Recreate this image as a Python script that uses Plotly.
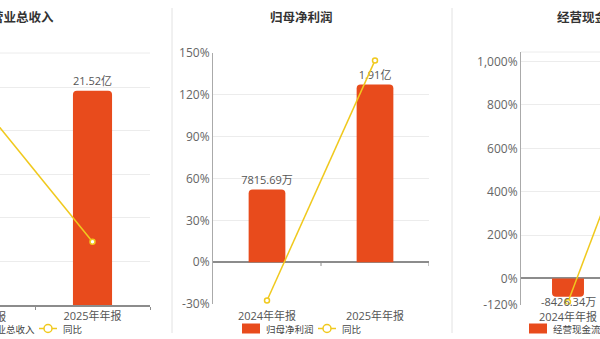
import plotly.graph_objects as go

# ---------------- data ----------------
categories = ["2024年年报", "2025年年报"]
panel_titles = ["营业总收入", "归母净利润", "经营现金流"]
revenue_wan = [188000, 215200]        # 2024 value off-screen (estimated)
revenue_yoy = [47.0, 14.5]
profit_wan = [7815.69, 19100]
profit_yoy = [-27.5, 144.7]
cash_wan = [-8426.34, 79200]          # 2025 value off-screen (estimated)
cash_yoy = [-108.0, 1040.0]
yoy_name = "同比"
profit_pct_ticks = [-30, 0, 30, 60, 90, 120, 150]
cash_pct_ticks = [-120, 0, 200, 400, 600, 800, 1000]
rev_pct_ticks = [0, 10, 20, 30, 40, 50]

W, H = 600, 339
BAR = "#E84B1C"
LINE = "#F0C91E"
GRID = "#ececec"
AX = "#8c8c8c"
FONT = "Open Sans, Noto Sans CJK SC, sans-serif"


def P(py):
    return 1 - py / H


def X(px):
    return px / W


def fmt(v):
    if abs(v) >= 10000:
        return f"{v / 10000:.2f}亿"
    return f"{v:.2f}万"


fig = go.Figure()

panels = [
    dict(bars=revenue_wan, yoy=revenue_yoy, xa="x", yb="y", yp="y2"),
    dict(bars=profit_wan, yoy=profit_yoy, xa="x2", yb="y3", yp="y4"),
    dict(bars=cash_wan, yoy=cash_yoy, xa="x3", yb="y5", yp="y6"),
]

annotations = []
for p in panels:
    fig.add_trace(go.Bar(
        x=categories, y=p["bars"], xaxis=p["xa"], yaxis=p["yb"],
        width=0.34, marker=dict(color=BAR, cornerradius=4, line=dict(width=0)),
        text=[fmt(v) if v >= 0 else "" for v in p["bars"]], textposition="outside",
        textfont=dict(size=11, color="#555"), constraintext="none",
        cliponaxis=False, showlegend=False, hoverinfo="skip"))
    # labels of negative bars sit just under the bar end
    for c, v in zip(categories, p["bars"]):
        if v < 0:
            annotations.append(dict(text=fmt(v), xref=p["xa"], yref=p["yb"], x=c, y=v,
                                    xanchor="center", yanchor="middle", yshift=-5,
                                    showarrow=False, font=dict(size=11, color="#555")))
    fig.add_trace(go.Scatter(
        x=categories, y=p["yoy"], xaxis=p["xa"], yaxis=p["yp"],
        mode="lines+markers", line=dict(color=LINE, width=1.5),
        marker=dict(symbol="circle", size=5, color="white",
                    line=dict(color=LINE, width=1.5)),
        name=yoy_name, showlegend=False, hoverinfo="skip"))

common_x = dict(type="category", showgrid=False, zeroline=False, automargin=False,
                tickfont=dict(size=11, color="#555"), fixedrange=True)
hidden_y = dict(visible=False, showgrid=False, zeroline=False, automargin=False)
pct_y = dict(showgrid=True, gridcolor=GRID, gridwidth=1, automargin=False,
             tickfont=dict(size=12, color="#666"), ticks="", showline=True,
             linecolor="#aaaaaa", linewidth=1)

fig.update_layout(
    template="none",
    width=W, height=H,
    margin=dict(l=0, r=0, t=0, b=0, autoexpand=False),
    paper_bgcolor="white", plot_bgcolor="rgba(0,0,0,0)",
    font=dict(family=FONT, size=12, color="#666"),
    showlegend=False,
    # left panel (revenue)
    xaxis=dict(common_x, domain=[0, X(150)], range=[0.5 - 35 / 115, 1.5], anchor="y",
               showline=True, linecolor=AX, linewidth=1.5, ticks="outside",
               tickson="boundaries", ticklen=3, tickcolor=AX),
    yaxis=dict(hidden_y, domain=[P(305), P(53)], range=[0, 253000], anchor="x"),
    yaxis2=dict(pct_y, overlaying="y", anchor="x", range=[0, 57.8], tickvals=rev_pct_ticks,
                ticktext=[f"{v:,}%" for v in rev_pct_ticks], zeroline=False, showline=False,
                showticklabels=False),
    # middle panel (profit)
    xaxis2=dict(common_x, domain=[X(213), X(429)], range=[-0.5, 1.5], anchor="y3",
                showline=False, ticks="outside", ticklen=2, tickcolor="rgba(0,0,0,0)"),
    yaxis3=dict(hidden_y, domain=[P(304), P(53)], range=[-4500, 22500], anchor="x2"),
    yaxis4=dict(pct_y, overlaying="y3", anchor="x2", range=[-30, 150], tickvals=profit_pct_ticks,
                ticktext=[f"{v:,}%" for v in profit_pct_ticks], zeroline=True,
                zerolinecolor=AX, zerolinewidth=1.5),
    # right panel (cash flow)
    xaxis3=dict(common_x, domain=[X(521), 1], range=[-0.5, -0.5 + 79 / 94], anchor="y5",
                showline=False, ticks="outside", ticklen=2, tickcolor="rgba(0,0,0,0)"),
    yaxis5=dict(hidden_y, domain=[P(304.5), P(52)], range=[-12000, 104400], anchor="x3"),
    yaxis6=dict(pct_y, overlaying="y5", anchor="x3", range=[-120, 1044], tickvals=cash_pct_ticks,
                ticktext=[f"{v:,}%" for v in cash_pct_ticks], zeroline=True,
                zerolinecolor=AX, zerolinewidth=1.5),
)

shapes = []
# panel separators
for sx in (172, 452):
    shapes.append(dict(type="line", xref="paper", yref="paper", x0=X(sx), x1=X(sx),
                       y0=P(8), y1=P(333), line=dict(color="#e2e2e2", width=1)))
# top borders of left and right plot areas
for xr, yr in (("x", "y"), ("x3", "y5")):
    shapes.append(dict(type="line", xref=f"{xr} domain", yref=f"{yr} domain",
                       x0=0, x1=1, y0=1, y1=1, line=dict(color=GRID, width=1)))
# small ticks on middle zero line
for bx in (0.5, 1.5):
    shapes.append(dict(type="line", xref="x2", yref="paper", x0=bx, x1=bx,
                       y0=P(262), y1=P(266), line=dict(color=AX, width=1)))

title_centers = [22, 301, 588]
legend_offsets = [-279, 0, 287]
for t, cx, off in zip(panel_titles, title_centers, legend_offsets):
    annotations.append(dict(text=f"<b>{t}</b>", xref="paper", yref="paper", x=X(cx), y=P(18),
                            xanchor="center", yanchor="middle", showarrow=False,
                            font=dict(size=12.5, color="#333")))
    # legend: bar swatch
    shapes.append(dict(type="rect", xref="paper", yref="paper", x0=X(242 + off), x1=X(260 + off),
                       y0=P(333.5), y1=P(323.5), fillcolor=BAR, line=dict(width=0)))
    annotations.append(dict(text=t, xref="paper", yref="paper", x=X(264 + off), y=P(329),
                            xanchor="left", yanchor="middle", showarrow=False,
                            font=dict(size=9.5, color="#444")))
    # legend: line swatch
    shapes.append(dict(type="line", xref="paper", yref="paper", x0=X(318 + off), x1=X(336 + off),
                       y0=P(328.5), y1=P(328.5), line=dict(color=LINE, width=1.5)))
    shapes.append(dict(type="circle", xref="paper", yref="paper", x0=X(323 + off), x1=X(331 + off),
                       y0=P(332.5), y1=P(324.5), fillcolor="white", line=dict(color=LINE, width=1.5)))
    annotations.append(dict(text=yoy_name, xref="paper", yref="paper", x=X(340 + off), y=P(329),
                            xanchor="left", yanchor="middle", showarrow=False,
                            font=dict(size=9.5, color="#444")))

# left panel: partially visible first category label
annotations.append(dict(text=categories[0], xref="paper", yref="paper", x=X(-23), y=P(316),
                        xanchor="center", yanchor="middle", showarrow=False,
                        font=dict(size=11, color="#555")))

fig.update_layout(shapes=shapes, annotations=annotations)
fig.write_html("out.html")
